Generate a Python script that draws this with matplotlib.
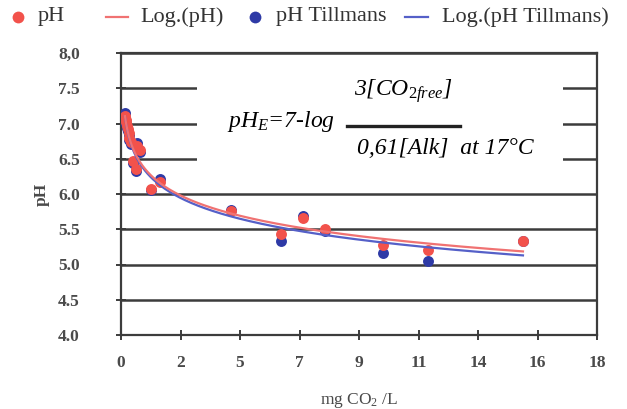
import numpy as np
import matplotlib
matplotlib.use("Agg")
import matplotlib.pyplot as plt
from matplotlib.lines import Line2D
from matplotlib.patches import Rectangle

# Measured pH against dissolved CO2
ph_x = [0.15, 0.18, 0.20, 0.23, 0.26, 0.29, 0.32, 0.36,
        0.62, 0.70, 0.46, 0.56, 1.12, 1.47, 4.15, 6.04, 6.88, 7.72, 9.89, 11.61, 15.20]
ph_y = [7.10, 7.05, 7.02, 6.97, 6.92, 6.86, 6.80, 6.74,
        6.68, 6.62, 6.47, 6.35, 6.07, 6.17, 5.76, 5.43, 5.66, 5.51, 5.27, 5.21, 5.34]

# Equilibrium pH after Tillmans
till_x = [0.15, 0.18, 0.20, 0.23, 0.26, 0.29, 0.32, 0.36,
          0.62, 0.70, 0.46, 0.56, 1.12, 1.47, 4.15, 6.04, 6.88, 7.72, 9.89, 11.61, 15.20]
till_y = [7.15, 7.02, 6.99, 6.94, 6.89, 6.83, 6.77, 6.71,
          6.72, 6.59, 6.44, 6.32, 6.05, 6.21, 5.77, 5.33, 5.69, 5.47, 5.17, 5.05, 5.33]

x_ticks = [0, 2.25, 4.5, 6.75, 9, 11.25, 13.5, 15.75, 18]
x_tick_labels = ["0", "2", "5", "7", "9", "11", "14", "16", "18"]
y_ticks = [4.0, 4.5, 5.0, 5.5, 6.0, 6.5, 7.0, 7.5, 8.0]
y_tick_labels = ["4.0", "4.5", "5.0", "5.5", "6.0", "6.5", "7.0", "7.5", "8,0"]
legend_labels = ["pH", "Log.(pH)", "pH Tillmans", "Log.(pH Tillmans)"]

RED = "#F2524B"
RED_LINE = "#F07272"
BLUE = "#2E3AA6"
BLUE_LINE = "#5560C8"
GRID = "#3c3c3c"
SERIF = "Liberation Serif"
W, H = 627, 409

plt.rcParams["mathtext.fontset"] = "custom"
plt.rcParams["mathtext.rm"] = "Liberation Serif"
plt.rcParams["mathtext.it"] = "Liberation Serif:italic"

fig = plt.figure(figsize=(W / 100, H / 100), dpi=100)
ax = fig.add_axes([121 / W, 74 / H, 476 / W, 282 / H])
ax.set_xlim(0, 18)
ax.set_ylim(4, 8)


def log_fit(x, y):
    x = np.asarray(x)
    a, b = np.polyfit(np.log(x), np.asarray(y), 1)
    xs = np.linspace(x.min(), x.max(), 300)
    return xs, a * np.log(xs) + b


# horizontal grid
ax.set_axisbelow(True)
ax.yaxis.grid(True, color=GRID, lw=1.8)
ax.xaxis.grid(False)

# white panel behind the formula
ax.add_patch(Rectangle((2.87, 6.16), 16.72 - 2.87, 7.87 - 6.16,
                       facecolor="white", edgecolor="none", zorder=1))

ax.scatter(till_x, till_y, s=62, color=BLUE, zorder=3, linewidths=0)
ax.scatter(ph_x, ph_y, s=62, color=RED, zorder=4, linewidths=0)
xs, ys = log_fit(till_x, till_y)
ax.plot(xs, ys, color=BLUE_LINE, lw=1.6, zorder=5)
xs, ys = log_fit(ph_x, ph_y)
ax.plot(xs, ys, color=RED_LINE, lw=1.6, zorder=6)

for s in ax.spines.values():
    s.set_color(GRID)
    s.set_linewidth(1.6)

ax.set_xticks(x_ticks)
ax.set_xticklabels(x_tick_labels)
ax.set_yticks(y_ticks)
ax.set_yticklabels(y_tick_labels)
ax.tick_params(axis="both", direction="inout", length=7, width=1.4, color=GRID,
               labelsize=12.5, labelcolor="#4a4a4a")
ax.tick_params(axis="x", pad=11)
ax.tick_params(axis="y", pad=34)
for lab in ax.get_xticklabels() + ax.get_yticklabels():
    lab.set_fontfamily(SERIF)
    lab.set_fontweight("bold")
for lab in ax.get_yticklabels():
    lab.set_horizontalalignment("center")

ax.set_ylabel("pH", fontfamily=SERIF, fontweight="bold", fontsize=12.5,
              color="#4a4a4a", labelpad=6)
ax.set_xlabel("mg CO$_2$ /L", fontfamily=SERIF, fontsize=12.5, color="#4a4a4a",
              labelpad=14)

# formula
fs = 17
ax.text(0.223, 0.757, "$pH_E$=7-log", transform=ax.transAxes, fontsize=fs,
        fontfamily=SERIF, fontstyle="italic", va="center", ha="left", zorder=7)
ax.text(0.49, 0.865, "3[CO$_{2free}$]", transform=ax.transAxes, fontsize=fs,
        fontfamily=SERIF, fontstyle="italic", va="center", ha="left", zorder=7)
ax.plot([0.475, 0.712], [0.742, 0.742], transform=ax.transAxes, color="#222222",
        lw=2.4, zorder=7)
ax.text(0.496, 0.66, "0,61[Alk]  at 17\u00b0C", transform=ax.transAxes, fontsize=fs,
        fontfamily=SERIF, fontstyle="italic", va="center", ha="left", zorder=7)

# legend row above the plot
ly = 1 - 17 / H
fig.add_artist(Line2D([18 / W], [ly], ls="none", marker="o", ms=8.5, color=RED,
                      mec="none", transform=fig.transFigure))
fig.add_artist(Line2D([106 / W, 128 / W], [ly, ly], color=RED_LINE, lw=1.6,
                      transform=fig.transFigure))
fig.add_artist(Line2D([255 / W], [ly], ls="none", marker="o", ms=8.5, color=BLUE,
                      mec="none", transform=fig.transFigure))
fig.add_artist(Line2D([405 / W, 428 / W], [ly, ly], color=BLUE_LINE, lw=1.6,
                      transform=fig.transFigure))
for xpx, lab in zip([38, 140, 276, 442], legend_labels):
    fig.text(xpx / W, ly, lab, fontfamily=SERIF, fontsize=16, color="#333333",
             va="center", ha="left")

fig.savefig("out.png", dpi=100)
